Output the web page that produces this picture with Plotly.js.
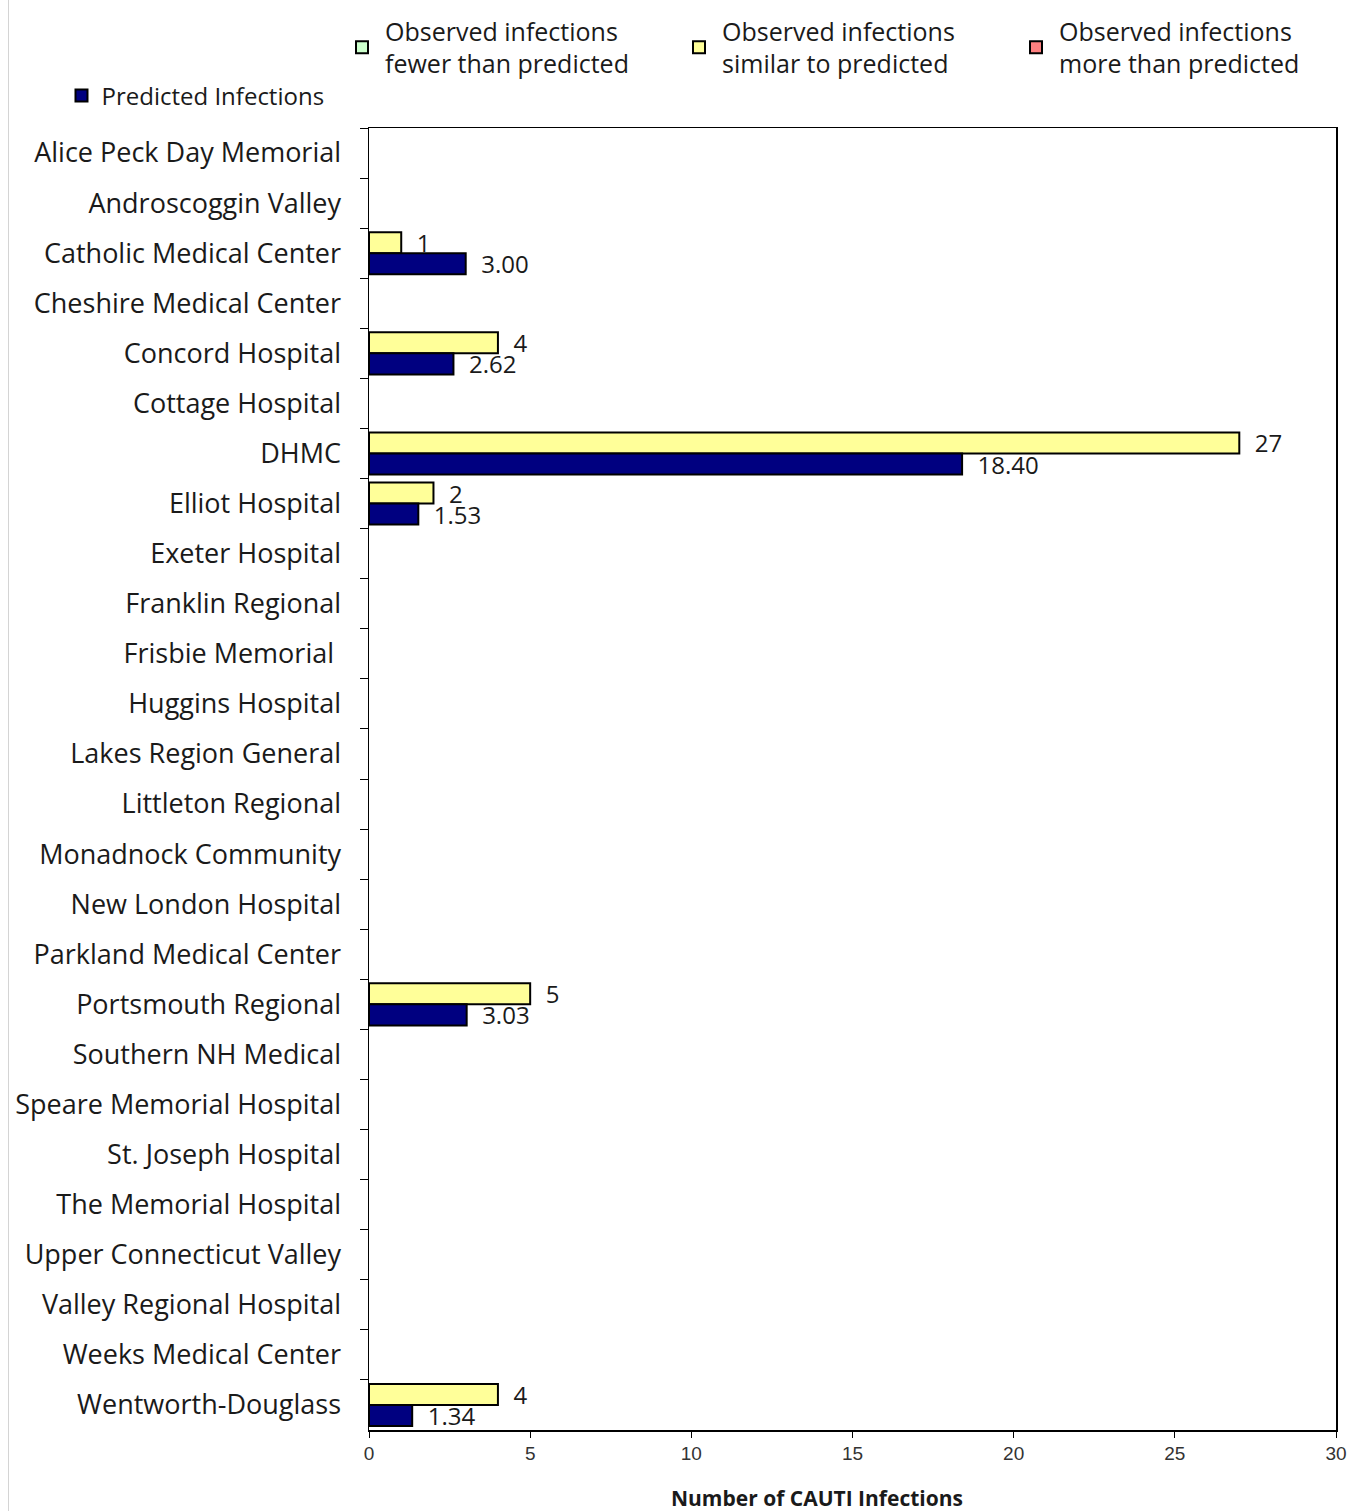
<!DOCTYPE html>
<html>
<head>
<meta charset="utf-8">
<script src="https://cdn.plot.ly/plotly-3.0.1.min.js"></script>
<style>
  html, body { margin: 0; padding: 0; background: #fff; }
  #wrap { position: relative; width: 1364px; height: 1511px; }
  #edge { position: absolute; left: 8px; top: 0; width: 1px; height: 1511px; background: #d4d4d4; }
  #chart { position: absolute; left: 0; top: 0; width: 1364px; height: 1511px; }
</style>
</head>
<body>
<div id="wrap"><div id="chart"></div><div id="edge"></div></div>
<script>
// Hospitals, top to bottom
const hospitals = [
  "Alice Peck Day Memorial", "Androscoggin Valley", "Catholic Medical Center",
  "Cheshire Medical Center", "Concord Hospital", "Cottage Hospital", "DHMC",
  "Elliot Hospital", "Exeter Hospital", "Franklin Regional", "Frisbie Memorial ",
  "Huggins Hospital", "Lakes Region General", "Littleton Regional",
  "Monadnock Community", "New London Hospital", "Parkland Medical Center",
  "Portsmouth Regional", "Southern NH Medical", "Speare Memorial Hospital",
  "St. Joseph Hospital", "The Memorial Hospital", "Upper Connecticut Valley",
  "Valley Regional Hospital", "Weeks Medical Center", "Wentworth-Douglass"
];

// Observed CAUTI infections (null = not reported)
const observed = [
  null, null, 1, null, 4, null, 27, 2, null, null, null, null, null,
  null, null, null, null, 5, null, null, null, null, null, null, null, 4
];

// Predicted CAUTI infections
const predicted = [
  null, null, 3.00, null, 2.62, null, 18.40, 1.53, null, null, null, null, null,
  null, null, null, null, 3.03, null, null, null, null, null, null, null, 1.34
];

// Comparison of observed vs predicted: "fewer", "similar", "more"
const status = [
  null, null, "similar", null, "similar", null, "similar", "similar", null, null, null, null, null,
  null, null, null, null, "similar", null, null, null, null, null, null, null, "similar"
];

const statusGroups = [
  { key: "fewer",   name: "Observed infections<br>fewer than predicted",   color: "#ccffcc" },
  { key: "similar", name: "Observed infections<br>similar to predicted",  color: "#ffff99" },
  { key: "more",    name: "Observed infections<br>more than predicted",    color: "#ff8080" }
];

const xTitle = "Number of CAUTI Infections";

const labelFont = { family: "Open Sans, Noto Sans, sans-serif", size: 24, color: "#1a1a1a" };
const pad = "\u00a0\u00a0";

const traces = statusGroups.map(g => ({
  type: "bar",
  orientation: "h",
  name: g.name,
  legend: "legend",
  offsetgroup: "observed",
  y: hospitals,
  x: observed.map((v, i) => status[i] === g.key ? v : null),
  marker: { color: g.color, line: { color: "#000", width: 2 } },
  texttemplate: pad + "%{x}",
  textposition: "outside",
  cliponaxis: false,
  constraintext: "none",
  textfont: labelFont,
  hoverinfo: "x+y"
}));

traces.push({
  type: "bar",
  orientation: "h",
  name: "Predicted Infections",
  legend: "legend2",
  offsetgroup: "predicted",
  y: hospitals,
  x: predicted,
  marker: { color: "#000080", line: { color: "#000", width: 2 } },
  texttemplate: pad + "%{x:.2f}",
  textposition: "outside",
  cliponaxis: false,
  constraintext: "none",
  textfont: labelFont,
  hoverinfo: "x+y"
});

const layout = {
  width: 1364,
  height: 1511,
  margin: { l: 369, r: 28, t: 128, b: 81, autoexpand: false },
  paper_bgcolor: "#fff",
  plot_bgcolor: "#fff",
  barmode: "group",
  bargap: 0.16,
  bargroupgap: 0,
  showlegend: true,
  xaxis: {
    range: [0, 30],
    dtick: 5,
    tick0: 0,
    showgrid: false,
    zeroline: false,
    showline: true,
    linecolor: "#000",
    linewidth: 1.5,
    mirror: true,
    ticks: "outside",
    ticklen: 6,
    tickcolor: "#000",
    tickfont: { family: "Liberation Sans, Arial, sans-serif", size: 19, color: "#333" },
    fixedrange: true
  },
  yaxis: {
    type: "category",
    autorange: "reversed",
    showgrid: false,
    showline: true,
    linecolor: "#000",
    linewidth: 1.5,
    mirror: true,
    ticks: "outside",
    tickson: "boundaries",
    ticklen: 8,
    tickcolor: "#000",
    ticksuffix: "   ",
    tickfont: { family: "Open Sans, Noto Sans, sans-serif", size: 27, color: "#1a1a1a" },
    fixedrange: true
  },
  annotations: [{
    text: "<b>" + xTitle + "</b>",
    xref: "paper", yref: "paper",
    x: 0.463, y: -0.052,
    xanchor: "center", yanchor: "middle",
    showarrow: false,
    font: { family: "Open Sans, Noto Sans, sans-serif", size: 21, color: "#1a1a1a" }
  }],
  legend: {
    orientation: "h",
    x: -0.031,
    xanchor: "left",
    y: 1.092,
    yanchor: "top",
    entrywidth: 286,
    itemwidth: 36,
    traceorder: "normal",
    font: { family: "Open Sans, Noto Sans, sans-serif", size: 25, color: "#1a1a1a" },
    bgcolor: "rgba(0,0,0,0)"
  },
  legend2: {
    orientation: "h",
    x: -0.318,
    xanchor: "left",
    y: 1.042,
    yanchor: "top",
    font: { family: "Open Sans, Noto Sans, sans-serif", size: 24, color: "#1a1a1a" },
    bgcolor: "rgba(0,0,0,0)"
  }
};

Plotly.newPlot("chart", traces, layout, { displayModeBar: false, staticPlot: true });
</script>
</body>
</html>
